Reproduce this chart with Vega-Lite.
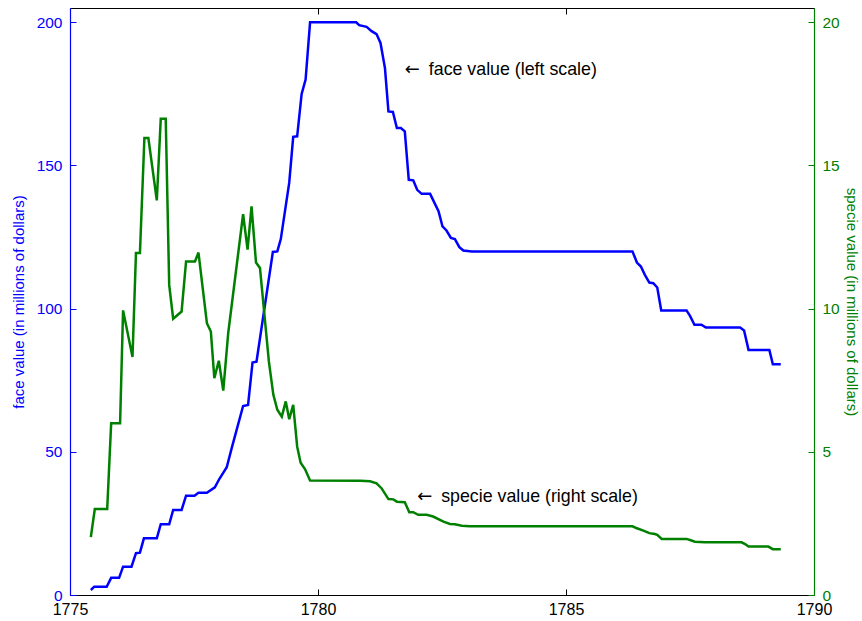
{
  "$schema": "https://vega.github.io/schema/vega-lite/v6.json",
  "width": 744,
  "height": 587,
  "autosize": "none",
  "padding": {"left": 70, "top": 8, "right": 48, "bottom": 26},
  "background": "white",
  "config": {
    "view": {"stroke": null},
    "font": "Liberation Sans",
    "axis": {"grid": false, "labelFont": "Liberation Sans", "titleFont": "Liberation Sans", "labelFontSize": 15.5, "titleFontSize": 15, "titleFontWeight": "normal", "domainWidth": 1.2, "tickWidth": 1}
  },
  "datasets": {
    "face": [
      {"year": 1775.42, "value": 1.75}, {"year": 1775.49, "value": 2.9}, {"year": 1775.74, "value": 2.9},
      {"year": 1775.83, "value": 6.0}, {"year": 1775.99, "value": 6.0}, {"year": 1776.07, "value": 9.9},
      {"year": 1776.24, "value": 9.9}, {"year": 1776.33, "value": 14.6}, {"year": 1776.41, "value": 14.8},
      {"year": 1776.49, "value": 19.8}, {"year": 1776.75, "value": 19.8}, {"year": 1776.83, "value": 24.7},
      {"year": 1777.0, "value": 24.7}, {"year": 1777.08, "value": 29.7}, {"year": 1777.25, "value": 29.7},
      {"year": 1777.34, "value": 34.7}, {"year": 1777.51, "value": 34.7}, {"year": 1777.59, "value": 35.7},
      {"year": 1777.76, "value": 35.7}, {"year": 1777.92, "value": 37.6}, {"year": 1778.01, "value": 40.5},
      {"year": 1778.16, "value": 44.6}, {"year": 1778.26, "value": 51.3}, {"year": 1778.49, "value": 66.0},
      {"year": 1778.59, "value": 66.4}, {"year": 1778.68, "value": 81.2}, {"year": 1778.76, "value": 81.5},
      {"year": 1779.09, "value": 119.8}, {"year": 1779.18, "value": 120}, {"year": 1779.25, "value": 124.3},
      {"year": 1779.42, "value": 144}, {"year": 1779.5, "value": 160}, {"year": 1779.58, "value": 160.2},
      {"year": 1779.67, "value": 175}, {"year": 1779.75, "value": 180}, {"year": 1779.84, "value": 200},
      {"year": 1780.77, "value": 200}, {"year": 1780.83, "value": 199}, {"year": 1780.98, "value": 198.4},
      {"year": 1781.08, "value": 196.9}, {"year": 1781.18, "value": 195.9}, {"year": 1781.26, "value": 192.8},
      {"year": 1781.35, "value": 184}, {"year": 1781.42, "value": 168.9}, {"year": 1781.51, "value": 168.7},
      {"year": 1781.59, "value": 163.1}, {"year": 1781.67, "value": 163.1}, {"year": 1781.75, "value": 161.9},
      {"year": 1781.83, "value": 145}, {"year": 1781.92, "value": 144.8}, {"year": 1782.0, "value": 141.5},
      {"year": 1782.09, "value": 140.1}, {"year": 1782.26, "value": 140.1}, {"year": 1782.43, "value": 134},
      {"year": 1782.51, "value": 128.7}, {"year": 1782.59, "value": 127.3}, {"year": 1782.68, "value": 124.7},
      {"year": 1782.76, "value": 124.3}, {"year": 1782.85, "value": 121.5}, {"year": 1782.93, "value": 120.3},
      {"year": 1783.1, "value": 120}, {"year": 1786.34, "value": 120}, {"year": 1786.43, "value": 116.1},
      {"year": 1786.51, "value": 114.7}, {"year": 1786.59, "value": 111.8}, {"year": 1786.68, "value": 109.1},
      {"year": 1786.76, "value": 108.9}, {"year": 1786.84, "value": 107.4}, {"year": 1786.92, "value": 99.4},
      {"year": 1787.43, "value": 99.4}, {"year": 1787.5, "value": 97.5}, {"year": 1787.59, "value": 94.4},
      {"year": 1787.73, "value": 94.4}, {"year": 1787.82, "value": 93.4}, {"year": 1788.51, "value": 93.4},
      {"year": 1788.59, "value": 92.4}, {"year": 1788.68, "value": 85.6}, {"year": 1789.1, "value": 85.6},
      {"year": 1789.17, "value": 80.6}, {"year": 1789.33, "value": 80.6}
    ],
    "specie": [
      {"year": 1775.42, "value": 2.02}, {"year": 1775.5, "value": 3.0}, {"year": 1775.75, "value": 3.0},
      {"year": 1775.83, "value": 6.0}, {"year": 1776.01, "value": 6.0}, {"year": 1776.07, "value": 9.94},
      {"year": 1776.26, "value": 8.31}, {"year": 1776.33, "value": 11.94}, {"year": 1776.41, "value": 11.94},
      {"year": 1776.5, "value": 15.96}, {"year": 1776.58, "value": 15.96}, {"year": 1776.75, "value": 13.78},
      {"year": 1776.83, "value": 16.63}, {"year": 1776.93, "value": 16.63}, {"year": 1777.0, "value": 10.83},
      {"year": 1777.08, "value": 9.65}, {"year": 1777.25, "value": 9.9}, {"year": 1777.34, "value": 11.65},
      {"year": 1777.52, "value": 11.65}, {"year": 1777.59, "value": 11.96}, {"year": 1777.76, "value": 9.49},
      {"year": 1777.84, "value": 9.2}, {"year": 1777.91, "value": 7.57}, {"year": 1778.0, "value": 8.18},
      {"year": 1778.09, "value": 7.14}, {"year": 1778.19, "value": 9.15}, {"year": 1778.49, "value": 13.3},
      {"year": 1778.58, "value": 12.06}, {"year": 1778.66, "value": 13.57}, {"year": 1778.75, "value": 11.61},
      {"year": 1778.83, "value": 11.42}, {"year": 1779.01, "value": 8.15}, {"year": 1779.1, "value": 6.99},
      {"year": 1779.18, "value": 6.47}, {"year": 1779.27, "value": 6.23}, {"year": 1779.35, "value": 6.76},
      {"year": 1779.42, "value": 6.14}, {"year": 1779.5, "value": 6.64}, {"year": 1779.58, "value": 5.18},
      {"year": 1779.65, "value": 4.62}, {"year": 1779.74, "value": 4.39}, {"year": 1779.84, "value": 4.0},
      {"year": 1780.85, "value": 3.99}, {"year": 1781.05, "value": 3.97}, {"year": 1781.18, "value": 3.9},
      {"year": 1781.28, "value": 3.73}, {"year": 1781.42, "value": 3.35}, {"year": 1781.52, "value": 3.34},
      {"year": 1781.59, "value": 3.26}, {"year": 1781.75, "value": 3.24}, {"year": 1781.84, "value": 2.89},
      {"year": 1781.92, "value": 2.89}, {"year": 1782.02, "value": 2.8}, {"year": 1782.19, "value": 2.8},
      {"year": 1782.32, "value": 2.74}, {"year": 1782.53, "value": 2.56}, {"year": 1782.66, "value": 2.48},
      {"year": 1782.76, "value": 2.47}, {"year": 1782.9, "value": 2.42}, {"year": 1783.06, "value": 2.4},
      {"year": 1786.34, "value": 2.4}, {"year": 1786.43, "value": 2.33}, {"year": 1786.56, "value": 2.25},
      {"year": 1786.68, "value": 2.16}, {"year": 1786.79, "value": 2.13}, {"year": 1786.84, "value": 2.1},
      {"year": 1786.93, "value": 1.96}, {"year": 1787.43, "value": 1.96}, {"year": 1787.5, "value": 1.92},
      {"year": 1787.6, "value": 1.86}, {"year": 1787.8, "value": 1.84}, {"year": 1788.54, "value": 1.84},
      {"year": 1788.61, "value": 1.78}, {"year": 1788.68, "value": 1.69}, {"year": 1789.08, "value": 1.69},
      {"year": 1789.17, "value": 1.6}, {"year": 1789.33, "value": 1.6}
    ],
    "faceLabel": [{"year": 1781.75, "value": 183.5, "arrow": "←", "label": "face value (left scale)"}],
    "specieLabel": [{"year": 1782.0, "value": 3.42, "arrow": "←", "label": "specie value (right scale)"}]
  },
  "layer": [
    {
      "layer": [
        {
          "data": {"name": "face"},
          "mark": {"type": "line", "color": "#0000ff", "strokeWidth": 2.5},
          "encoding": {
            "x": {"field": "year", "type": "quantitative", "scale": {"domain": [1775, 1790], "nice": false, "zero": false},
                  "axis": {"orient": "bottom", "values": [1775, 1780, 1785, 1790], "title": null, "format": "d", "labelFontSize": 16, "labelColor": "black", "domainColor": "black", "tickColor": "black", "tickSize": -6, "labelPadding": 12, "labelFlush": false}},
            "y": {"field": "value", "type": "quantitative", "scale": {"domain": [0, 205], "nice": false, "zero": false},
                  "axis": {"orient": "left", "values": [0, 50, 100, 150, 200], "title": "face value (in millions of dollars)", "titleColor": "#0000ff", "labelColor": "#0000ff", "domainColor": "#0000ff", "tickColor": "#0000ff", "tickSize": -6, "labelPadding": 14, "titlePadding": 10, "labelFlush": false}}
          }
        },
        {
          "data": {"name": "faceLabel"},
          "mark": {"type": "text", "align": "left", "baseline": "middle", "fontSize": 18, "color": "black", "font": "DejaVu Sans"},
          "encoding": {
            "x": {"field": "year", "type": "quantitative"},
            "y": {"field": "value", "type": "quantitative"},
            "text": {"field": "arrow"}
          }
        },
        {
          "data": {"name": "faceLabel"},
          "mark": {"type": "text", "align": "left", "baseline": "middle", "fontSize": 17.8, "color": "black", "font": "Liberation Sans", "dx": 24},
          "encoding": {
            "x": {"field": "year", "type": "quantitative"},
            "y": {"field": "value", "type": "quantitative"},
            "text": {"field": "label"}
          }
        }
      ]
    },
    {
      "layer": [
        {
          "data": {"name": "specie"},
          "mark": {"type": "line", "color": "#008000", "strokeWidth": 2.5},
          "encoding": {
            "x": {"field": "year", "type": "quantitative",
                  "axis": {"orient": "top", "values": [1775, 1780, 1785, 1790], "labels": false, "title": null, "domainColor": "black", "tickColor": "black", "tickSize": -6}},
            "y": {"field": "value", "type": "quantitative", "scale": {"domain": [0, 20.5], "nice": false, "zero": false},
                  "axis": {"orient": "right", "values": [0, 5, 10, 15, 20], "title": "specie value (in millions of dollars)", "titleColor": "#008000", "labelColor": "#008000", "domainColor": "#008000", "tickColor": "#008000", "tickSize": -6, "labelPadding": 14, "titlePadding": 4, "labelFlush": false}}
          }
        },
        {
          "data": {"name": "specieLabel"},
          "mark": {"type": "text", "align": "left", "baseline": "middle", "fontSize": 18, "color": "black", "font": "DejaVu Sans"},
          "encoding": {
            "x": {"field": "year", "type": "quantitative"},
            "y": {"field": "value", "type": "quantitative"},
            "text": {"field": "arrow"}
          }
        },
        {
          "data": {"name": "specieLabel"},
          "mark": {"type": "text", "align": "left", "baseline": "middle", "fontSize": 17.8, "color": "black", "font": "Liberation Sans", "dx": 24},
          "encoding": {
            "x": {"field": "year", "type": "quantitative"},
            "y": {"field": "value", "type": "quantitative"},
            "text": {"field": "label"}
          }
        }
      ]
    }
  ],
  "resolve": {"scale": {"y": "independent"}, "axis": {"x": "independent"}}
}
